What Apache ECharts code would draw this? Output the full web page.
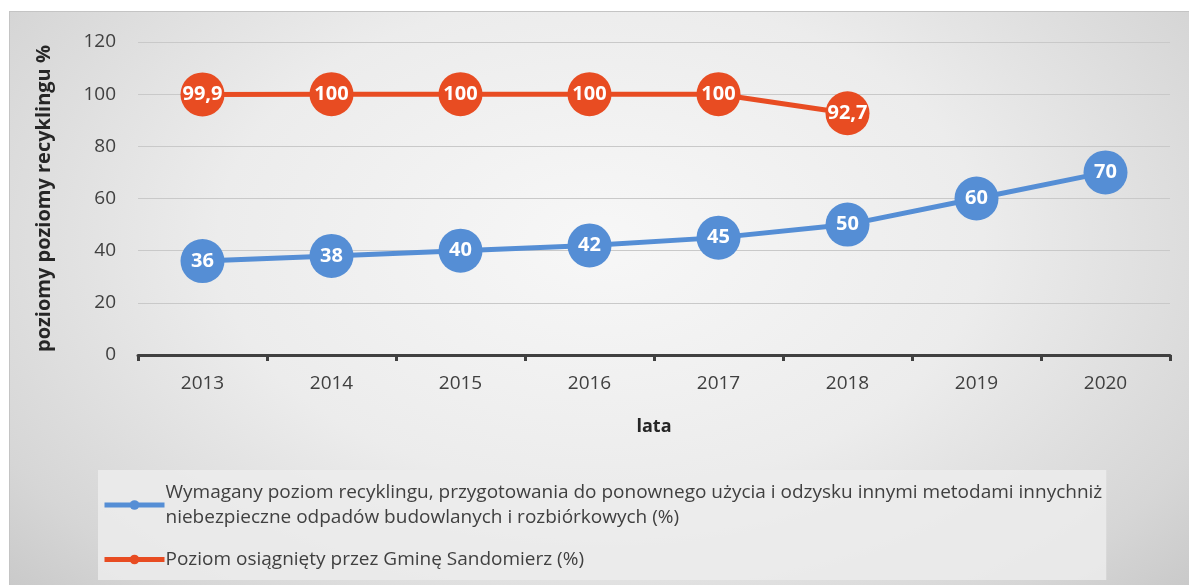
<!DOCTYPE html>
<html>
<head>
<meta charset="utf-8">
<script src="https://cdn.jsdelivr.net/npm/echarts@6/dist/echarts.min.js"></script>
<style>
  html, body { margin: 0; padding: 0; background: #fff; }
  #wrap {
    position: absolute; left: 9px; top: 11px; width: 1180px; height: 574px;
    border-top: 1px solid #c4c4c4; border-left: 1px solid #c4c4c4;
    background: radial-gradient(ellipse 72% 95% at 50% 40%, #f7f7f7 0%, #ececec 45%, #d6d6d6 80%, #c4c4c4 100%);
  }
  #chart { position: absolute; left: 0; top: 0; width: 1189px; height: 585px; }
</style>
</head>
<body>
<div id="wrap"></div>
<div id="chart"></div>
<script>
const years = ['2013', '2014', '2015', '2016', '2017', '2018', '2019', '2020']
const required = [36, 38, 40, 42, 45, 50, 60, 70]
const achieved = [99.9, 100, 100, 100, 100, 92.7, null, null]
const seriesNames = [
  'Wymagany poziom recyklingu, przygotowania do ponownego użycia i odzysku innymi metodami innychniż\nniebezpieczne odpadów budowlanych i rozbiórkowych (%)',
  'Poziom osiągnięty przez Gminę Sandomierz (%)'
]

const myChart = echarts.init(document.getElementById('chart'))
const fmt = (p) => String(p.value).replace('.', ',')
let option = {
  textStyle: { fontFamily: 'Open Sans' },
  grid: { left: 138, right: 19, top: 42, bottom: 230 },
  legend: {
    orient: 'vertical',
    left: 98,
    top: 470,
    padding: [10, 4, 8, 4],
    itemGap: 17,
    itemWidth: 60,
    itemHeight: 12,
    backgroundColor: 'rgba(236,236,236,0.85)',
    data: seriesNames,
    lineStyle: { width: 5 },
    textStyle: {
      color: '#404040',
      fontSize: 19,
      fontFamily: 'Open Sans',
      lineHeight: 25,
      padding: [0, 0, 0, -4]
    }
  },
  xAxis: {
    type: 'category',
    data: years,
    name: 'lata',
    nameLocation: 'middle',
    nameGap: 63,
    nameTextStyle: { color: '#262626', fontSize: 18, fontWeight: 'bold' },
    axisLine: { lineStyle: { color: '#404040', width: 3 } },
    axisTick: { show: true, length: 6, lineStyle: { color: '#404040', width: 3 } },
    axisLabel: { color: '#404040', fontSize: 19, margin: 19 }
  },
  yAxis: {
    type: 'value',
    min: 0,
    max: 120,
    interval: 20,
    name: 'poziomy poziomy recyklingu %',
    nameLocation: 'middle',
    nameGap: 84,
    nameTextStyle: { color: '#262626', fontSize: 20, fontWeight: 'bold' },
    axisLine: { show: false },
    axisTick: { show: false },
    axisLabel: { color: '#404040', fontSize: 19, margin: 22 },
    splitLine: { lineStyle: { color: '#c9c9c9', width: 1 } }
  },
  series: [
    {
      name: seriesNames[0],
      type: 'line',
      data: required,
      symbol: 'circle',
      symbolSize: 44,
      lineStyle: { color: '#558ed5', width: 5 },
      itemStyle: { color: '#558ed5' },
      label: { show: true, position: 'inside', color: '#fff', fontSize: 20, fontWeight: 'bold', formatter: fmt }
    },
    {
      name: seriesNames[1],
      type: 'line',
      data: achieved,
      symbol: 'circle',
      symbolSize: 44,
      lineStyle: { color: '#e84c22', width: 5 },
      itemStyle: { color: '#e84c22' },
      label: { show: true, position: 'inside', color: '#fff', fontSize: 20, fontWeight: 'bold', formatter: fmt }
    }
  ]
}
myChart.setOption(option)
window.addEventListener('resize', () => {
  myChart.resize()
})
</script>
</body>
</html>
